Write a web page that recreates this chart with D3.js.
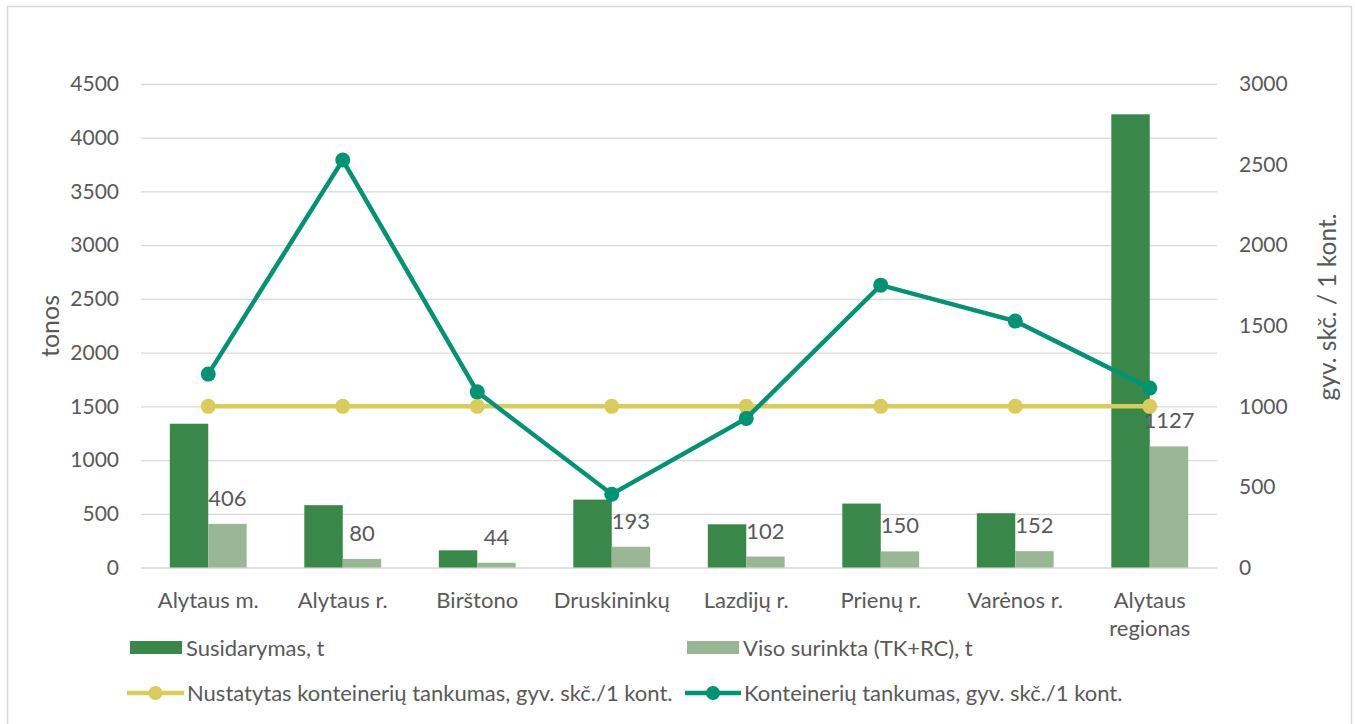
<!DOCTYPE html>
<html lang="lt">
<head>
<meta charset="utf-8">
<script src="https://d3js.org/d3.v7.min.js"></script>
<style>
  body { margin: 0; background: #fff; }
  svg text { font-family: Lato, "Open Sans", sans-serif; fill: #595959; }
</style>
</head>
<body>
<svg id="chart" width="1355" height="724"></svg>
<script>
// --- data ---
var categories = ["Alytaus m.", "Alytaus r.", "Birštono", "Druskininkų", "Lazdijų r.", "Prienų r.", "Varėnos r.", "Alytaus regionas"];
var susidarymas = [1338, 580, 160, 632, 402, 595, 505, 4218];
var surinkta = [406, 80, 44, 193, 102, 150, 152, 1127];
var nustatytas = [1000, 1000, 1000, 1000, 1000, 1000, 1000, 1000];
var tankumas = [1200, 2528, 1090, 455, 925, 1752, 1529, 1113];
var leftTicks = [0, 500, 1000, 1500, 2000, 2500, 3000, 3500, 4000, 4500];
var rightTicks = [0, 500, 1000, 1500, 2000, 2500, 3000];

var seriesNames = ["Susidarymas, t", "Viso surinkta (TK+RC), t",
  "Nustatytas konteinerių tankumas, gyv. skč./1 kont.", "Konteinerių tankumas, gyv. skč./1 kont."];
var colors = { dark: "#3a874a", light: "#9ab795", yellow: "#dacc5a", teal: "#009473" };

var svg = d3.select("#chart");

// chart border
svg.append("rect")
  .attr("x", 7.5).attr("y", 6.5).attr("width", 1344).attr("height", 730)
  .attr("fill", "#fff").attr("stroke", "#d9d9d9").attr("stroke-width", 1.5);

var plot = { left: 141, right: 1217, top: 84, bottom: 567.5 };

var x0 = d3.scaleBand().domain(categories).range([plot.left, plot.right]).padding(0);
var x1 = d3.scaleBand().domain(["a", "b"]).range([0, x0.bandwidth()]).paddingInner(0).paddingOuter(0.75);
var yL = d3.scaleLinear().domain([0, 4500]).range([plot.bottom, plot.top]);
var yR = d3.scaleLinear().domain([0, 3000]).range([plot.bottom, plot.top]);

// gridlines
svg.append("g")
  .attr("transform", "translate(" + plot.left + ",0)")
  .call(d3.axisLeft(yL).tickValues(leftTicks).tickSize(-(plot.right - plot.left)).tickFormat(""))
  .call(function(g) {
    g.select(".domain").remove();
    g.selectAll("line").attr("stroke", "#d9d9d9").attr("stroke-width", 1.3);
  });

// left axis labels
svg.append("g")
  .attr("transform", "translate(" + plot.left + ",0)")
  .call(d3.axisLeft(yL).tickValues(leftTicks).tickFormat(d3.format("d")).tickSize(0).tickPadding(22))
  .call(function(g) {
    g.select(".domain").remove();
    g.selectAll("text").style("font-size", "21px").attr("fill", "#595959");
  });

// right axis labels
svg.append("g")
  .attr("transform", "translate(" + plot.right + ",0)")
  .call(d3.axisRight(yR).tickValues(rightTicks).tickFormat(d3.format("d")).tickSize(0).tickPadding(22))
  .call(function(g) {
    g.select(".domain").remove();
    g.selectAll("text").style("font-size", "21px").attr("fill", "#595959");
  });

// axis titles
svg.append("text")
  .attr("transform", "translate(50,326) rotate(-90)")
  .attr("text-anchor", "middle").attr("dy", "0.35em")
  .style("font-size", "25px").text("tonos");
svg.append("text")
  .attr("transform", "translate(1327,307) rotate(-90)")
  .attr("text-anchor", "middle").attr("dy", "0.35em")
  .style("font-size", "24.5px").text("gyv. skč. / 1 kont.");

// bars
var groups = svg.append("g").selectAll("g")
  .data(categories)
  .join("g")
  .attr("transform", function(d) { return "translate(" + x0(d) + ",0)"; });

groups.append("rect")
  .attr("x", x1("a")).attr("width", x1.bandwidth())
  .attr("y", function(d, i) { return yL(susidarymas[i]); })
  .attr("height", function(d, i) { return plot.bottom - yL(susidarymas[i]); })
  .attr("fill", colors.dark);

groups.append("rect")
  .attr("x", x1("b")).attr("width", x1.bandwidth())
  .attr("y", function(d, i) { return yL(surinkta[i]); })
  .attr("height", function(d, i) { return plot.bottom - yL(surinkta[i]); })
  .attr("fill", colors.light);

// x category labels
var xAxis = svg.append("g")
  .attr("transform", "translate(0," + plot.bottom + ")")
  .call(d3.axisBottom(x0).tickSize(0).tickPadding(0))
  .call(function(g) { g.select(".domain").remove(); });
xAxis.selectAll("text").remove();
xAxis.selectAll(".tick").each(function(d) {
  var t = d3.select(this).append("text")
    .attr("text-anchor", "middle").style("font-size", "22px");
  var parts = d === "Alytaus regionas" ? ["Alytaus", "regionas"] : [d];
  parts.forEach(function(p, k) {
    t.append("tspan").attr("x", 0).attr("y", 40 + k * 28).text(p);
  });
});

// lines
var cx = function(i) { return x0(categories[i]) + x0.bandwidth() / 2; };
var line = function(vals) {
  return d3.line().x(function(d, i) { return cx(i); }).y(function(d) { return yR(d); })(vals);
};

svg.append("path").attr("d", line(nustatytas))
  .attr("fill", "none").attr("stroke", colors.yellow).attr("stroke-width", 4.5);
svg.append("g").selectAll("circle").data(nustatytas).join("circle")
  .attr("cx", function(d, i) { return cx(i); }).attr("cy", function(d) { return yR(d); })
  .attr("r", 7.5).attr("fill", colors.yellow);

svg.append("path").attr("d", line(tankumas))
  .attr("fill", "none").attr("stroke", colors.teal).attr("stroke-width", 4.5);
svg.append("g").selectAll("circle").data(tankumas).join("circle")
  .attr("cx", function(d, i) { return cx(i); }).attr("cy", function(d) { return yR(d); })
  .attr("r", 7.5).attr("fill", colors.teal);

// data labels for collected amounts
groups.append("text")
  .attr("x", x1("b") + x1.bandwidth() / 2)
  .attr("y", function(d, i) { return yL(surinkta[i]) - 18; })
  .attr("text-anchor", "middle")
  .style("font-size", "22px").attr("fill", "#404040")
  .text(function(d, i) { return surinkta[i]; });

// legend
var legend = svg.append("g");
legend.append("rect").attr("x", 130).attr("y", 641).attr("width", 52).attr("height", 13).attr("fill", colors.dark);
legend.append("text").attr("x", 186).attr("y", 648).attr("dy", "0.35em").style("font-size", "22px").text(seriesNames[0]);
legend.append("rect").attr("x", 687).attr("y", 641).attr("width", 52).attr("height", 13).attr("fill", colors.light);
legend.append("text").attr("x", 743).attr("y", 648).attr("dy", "0.35em").style("font-size", "22px").text(seriesNames[1]);

legend.append("line").attr("x1", 127).attr("x2", 184).attr("y1", 693).attr("y2", 693)
  .attr("stroke", colors.yellow).attr("stroke-width", 4.5);
legend.append("circle").attr("cx", 155.5).attr("cy", 693).attr("r", 7).attr("fill", colors.yellow);
legend.append("text").attr("x", 187).attr("y", 693).attr("dy", "0.35em").style("font-size", "22px").text(seriesNames[2]);

legend.append("line").attr("x1", 685).attr("x2", 741).attr("y1", 693).attr("y2", 693)
  .attr("stroke", colors.teal).attr("stroke-width", 4.5);
legend.append("circle").attr("cx", 713).attr("cy", 693).attr("r", 7).attr("fill", colors.teal);
legend.append("text").attr("x", 744).attr("y", 693).attr("dy", "0.35em").style("font-size", "22px").text(seriesNames[3]);
</script>
</body>
</html>
